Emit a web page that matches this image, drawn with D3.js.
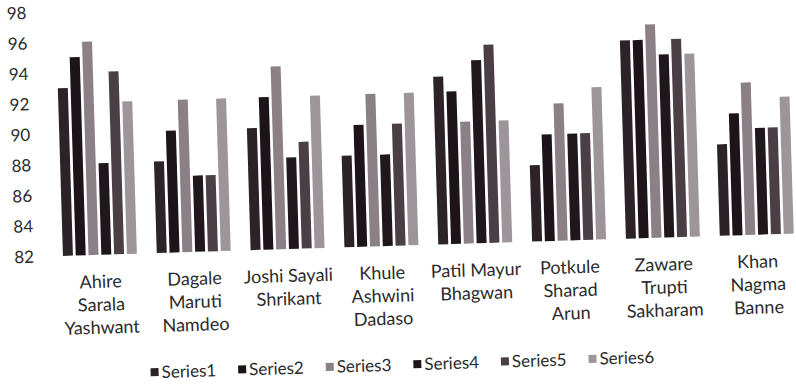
<!DOCTYPE html>
<html>
<head>
<meta charset="utf-8">
<script src="https://cdn.jsdelivr.net/npm/d3@7"></script>
<style>
  html, body { margin: 0; padding: 0; background: #ffffff; }
  svg { display: block; }
  text { font-family: Lato, "Noto Sans", sans-serif; fill: #2b2b2b; }
</style>
</head>
<body>
<svg id="chart" width="796" height="385"></svg>
<script>
// ---- data ----
const categories = [
  "Ahire\nSarala\nYashwant",
  "Dagale\nMaruti\nNamdeo",
  "Joshi Sayali\nShrikant",
  "Khule\nAshwini\nDadaso",
  "Patil Mayur\nBhagwan",
  "Potkule\nSharad\nArun",
  "Zaware\nTrupti\nSakharam",
  "Khan\nNagma\nBanne"
];
const seriesNames = ["Series1", "Series2", "Series3", "Series4", "Series5", "Series6"];
const series1 = [93, 88, 90, 88, 93, 87, 95, 88];
const series2 = [95, 90, 92, 90, 92, 89, 95, 90];
const series3 = [96, 92, 94, 92, 90, 91, 96, 92];
const series4 = [88, 87, 88, 88, 94, 89, 94, 89];
const series5 = [94, 87, 89, 90, 95, 89, 95, 89];
const series6 = [92, 92, 92, 92, 90, 92, 94, 91];
const yTicks = [82, 84, 86, 88, 90, 92, 94, 96, 98];
const seriesColors = ["#2b2327", "#1c1418", "#8a8085", "#1f171b", "#4a3f44", "#9d9599"];

const seriesValues = [series1, series2, series3, series4, series5, series6];

// ---- layout ----
const svg = d3.select("#chart");
// the reference photo is slightly tilted
const g = svg.append("g").attr("transform", "rotate(-1.75, 60, 256)");

const x0 = d3.scaleBand()
  .domain(categories)
  .range([53, 804])
  .paddingInner(0.212)
  .paddingOuter(0.106);

const x1 = d3.scaleBand()
  .domain(seriesNames)
  .range([0, x0.bandwidth()])
  .paddingInner(0.22);

const y = d3.scaleLinear().domain([82, 98]).range([256, 12]);

// y axis labels
const yAxis = d3.axisLeft(y).tickValues(yTicks).tickSize(0).tickPadding(0).tickFormat(d3.format("d"));
const yg = g.append("g").attr("transform", "translate(34,0)").call(yAxis);
yg.select(".domain").remove();
yg.selectAll("text")
  .style("font-family", "Lato, 'Noto Sans', sans-serif")
  .style("font-size", "17px")
  .attr("fill", "#2b2b2b");

// bars
const groups = g.selectAll("g.cat")
  .data(categories)
  .enter().append("g")
  .attr("class", "cat")
  .attr("transform", d => `translate(${x0(d)},0)`);

groups.selectAll("rect")
  .data((d, i) => seriesNames.map((s, j) => ({ s, j, v: seriesValues[j][i] })))
  .enter().append("rect")
  .attr("x", d => x1(d.s))
  .attr("width", x1.bandwidth())
  .attr("y", d => y(d.v))
  .attr("height", d => y(82) - y(d.v))
  .attr("fill", d => seriesColors[d.j]);

// category labels
const labelG = g.append("g");
categories.forEach(c => {
  const t = labelG.append("text")
    .attr("x", x0(c) + x0.bandwidth() / 2)
    .attr("y", 289)
    .attr("text-anchor", "middle")
    .style("font-size", "18px");
  c.split("\n").forEach((line, k) => {
    t.append("tspan")
      .attr("x", x0(c) + x0.bandwidth() / 2)
      .attr("dy", k === 0 ? 0 : 23)
      .text(line);
  });
});

// legend
const legend = g.append("g");
let lx = 147;
seriesNames.forEach((s, j) => {
  legend.append("rect")
    .attr("x", lx).attr("y", 371)
    .attr("width", 8).attr("height", 8)
    .attr("fill", seriesColors[j]);
  const t = legend.append("text")
    .attr("x", lx + 11).attr("y", 381)
    .style("font-size", "17px")
    .text(s);
  lx += 11 + t.node().getComputedTextLength() + 22;
});
</script>
</body>
</html>
